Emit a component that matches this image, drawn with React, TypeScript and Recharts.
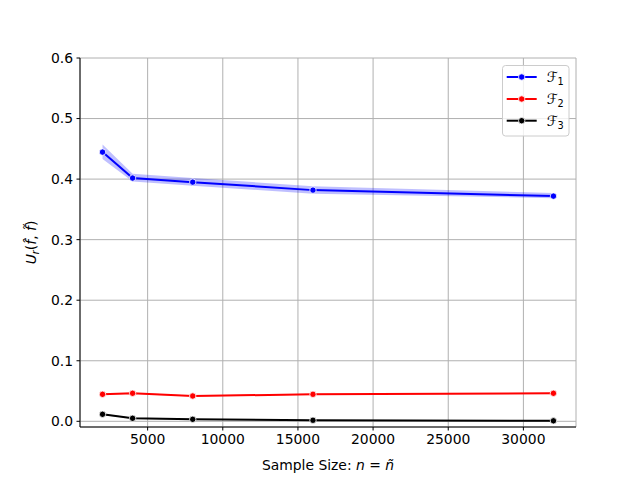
import {
    Area,
    CartesianGrid,
    ComposedChart,
    Line,
    XAxis,
    YAxis,
} from 'recharts';

const sampleSizes = [2000, 4000, 8000, 16000, 32000];

const f1Mean = [0.4446, 0.4017, 0.395, 0.3818, 0.3719];
const f1Lower = [0.433, 0.396, 0.389, 0.376, 0.3685];
const f1Upper = [0.457, 0.409, 0.402, 0.388, 0.377];

const f2Mean = [0.0446, 0.0463, 0.0418, 0.0446, 0.0463];
const f2Lower = [0.0436, 0.0453, 0.0408, 0.0437, 0.0454];
const f2Upper = [0.0456, 0.0473, 0.0428, 0.0455, 0.0472];

const f3Mean = [0.0116, 0.005, 0.0033, 0.0017, 0.0008];
const f3Lower = [0.0106, 0.0042, 0.0026, 0.0011, 0.0003];
const f3Upper = [0.0126, 0.0058, 0.004, 0.0023, 0.0013];

const xTicks = [5000, 10000, 15000, 20000, 25000, 30000];
const yTicks = [0, 0.1, 0.2, 0.3, 0.4, 0.5, 0.6];

const seriesKeys = ['f1', 'f2', 'f3'];
const seriesSubs = ['1', '2', '3'];
const seriesColors = ['#0000ff', '#ff0000', '#000000'];

const FONT = '"DejaVu Sans", sans-serif';
const FS = 13.9;
const GRID = '#b0b0b0';

const data = sampleSizes.map((n, i) => ({
    n,
    f1: f1Mean[i],
    f1Band: [f1Lower[i], f1Upper[i]],
    f2: f2Mean[i],
    f2Band: [f2Lower[i], f2Upper[i]],
    f3: f3Mean[i],
    f3Band: [f3Lower[i], f3Upper[i]],
}));

function XLabel() {
    return (
        <text x={328} y={470} textAnchor="middle" fontFamily={FONT} fontSize={FS} fill="#000">
            Sample Size: <tspan fontStyle="italic">n</tspan> = <tspan fontStyle="italic">{'n\u0303'}</tspan>
        </text>
    );
}

function YLabel() {
    return (
        <text
            x={31}
            y={242.5}
            dy="0.35em"
            textAnchor="middle"
            transform="rotate(-90, 31, 242.5)"
            fontFamily={FONT}
            fontSize={FS}
            fill="#000"
        >
            <tspan fontStyle="italic">U</tspan>
            <tspan fontStyle="italic" fontSize={FS * 0.7} dy={3}>r</tspan>
            <tspan dy={-3}>(</tspan>
            <tspan fontStyle="italic">{'f\u0302'}</tspan>
            <tspan>, </tspan>
            <tspan fontStyle="italic">{'f\u0303'}</tspan>
            <tspan>)</tspan>
        </text>
    );
}

function LegendBox() {
    const rows = [12, 34, 55.7];
    return (
        <svg
            width={68}
            height={72}
            style={{position: 'absolute', left: 502, top: 65}}
        >
            <rect x={0.5} y={0.5} width={66.5} height={70.5} rx={3} fill="rgba(255,255,255,0.8)" stroke="#cccccc"/>
            {seriesKeys.map((k, i) => (
                <g key={k}>
                    <line x1={4.7} x2={34.7} y1={rows[i]} y2={rows[i]} stroke={seriesColors[i]} strokeWidth={2}/>
                    <circle cx={19.7} cy={rows[i]} r={3.2} fill={seriesColors[i]} stroke="#fff" strokeWidth={0.8}/>
                    <text x={44.7} y={rows[i]} dy="0.35em" fontFamily={FONT} fontSize={FS} fill="#000">
                        <tspan fontStyle="italic">{'\u2131'}</tspan>
                        <tspan fontSize={FS * 0.7} dy={3}>{seriesSubs[i]}</tspan>
                    </text>
                </g>
            ))}
        </svg>
    );
}

export default function App() {
    const tickStyle = {fill: '#000', fontSize: FS, fontFamily: FONT};
    return (
        <div style={{position: 'absolute', left: 0, top: 0, width: 640, height: 480, background: '#fff'}}>
            <ComposedChart
                width={640}
                height={480}
                data={data}
                margin={{top: 58, right: 64, bottom: 23, left: 30}}
            >
                <CartesianGrid stroke={GRID} strokeWidth={1} horizontal vertical/>
                <XAxis
                    dataKey="n"
                    type="number"
                    domain={[500, 33500]}
                    ticks={xTicks}
                    allowDataOverflow
                    height={30}
                    tick={tickStyle}
                    tickSize={3.5}
                    tickMargin={3.5}
                    axisLine={{stroke: '#000', strokeWidth: 1}}
                    tickLine={{stroke: '#000', strokeWidth: 1}}
                />
                <XAxis
                    xAxisId="top"
                    orientation="top"
                    type="number"
                    domain={[500, 33500]}
                    height={0}
                    tick={false}
                    tickLine={false}
                    axisLine={{stroke: '#000', strokeWidth: 1}}
                />
                <YAxis
                    type="number"
                    domain={[-0.0094, 0.6]}
                    ticks={yTicks}
                    allowDataOverflow
                    width={50}
                    tick={tickStyle}
                    tickSize={3.5}
                    tickMargin={3.5}
                    tickFormatter={(v: number) => v.toFixed(1)}
                    axisLine={{stroke: '#000', strokeWidth: 1}}
                    tickLine={{stroke: '#000', strokeWidth: 1}}
                />
                <YAxis
                    yAxisId="right"
                    orientation="right"
                    type="number"
                    domain={[0, 1]}
                    width={0}
                    tick={false}
                    tickLine={false}
                    axisLine={{stroke: '#000', strokeWidth: 1}}
                />
                {seriesKeys.map((k, i) => [
                    <Area
                        key={`${k}-band`}
                        type="linear"
                        dataKey={`${k}Band`}
                        fill={seriesColors[i]}
                        fillOpacity={0.25}
                        stroke="none"
                        isAnimationActive={false}
                        activeDot={false}
                    />,
                    <Line
                        key={k}
                        type="linear"
                        dataKey={k}
                        stroke={seriesColors[i]}
                        strokeWidth={2}
                        dot={{r: 3.2, fill: seriesColors[i], stroke: '#fff', strokeWidth: 0.8}}
                        activeDot={false}
                        isAnimationActive={false}
                    />,
                ])}
                <XLabel/>
                <YLabel/>
            </ComposedChart>
            <LegendBox/>
        </div>
    );
}
